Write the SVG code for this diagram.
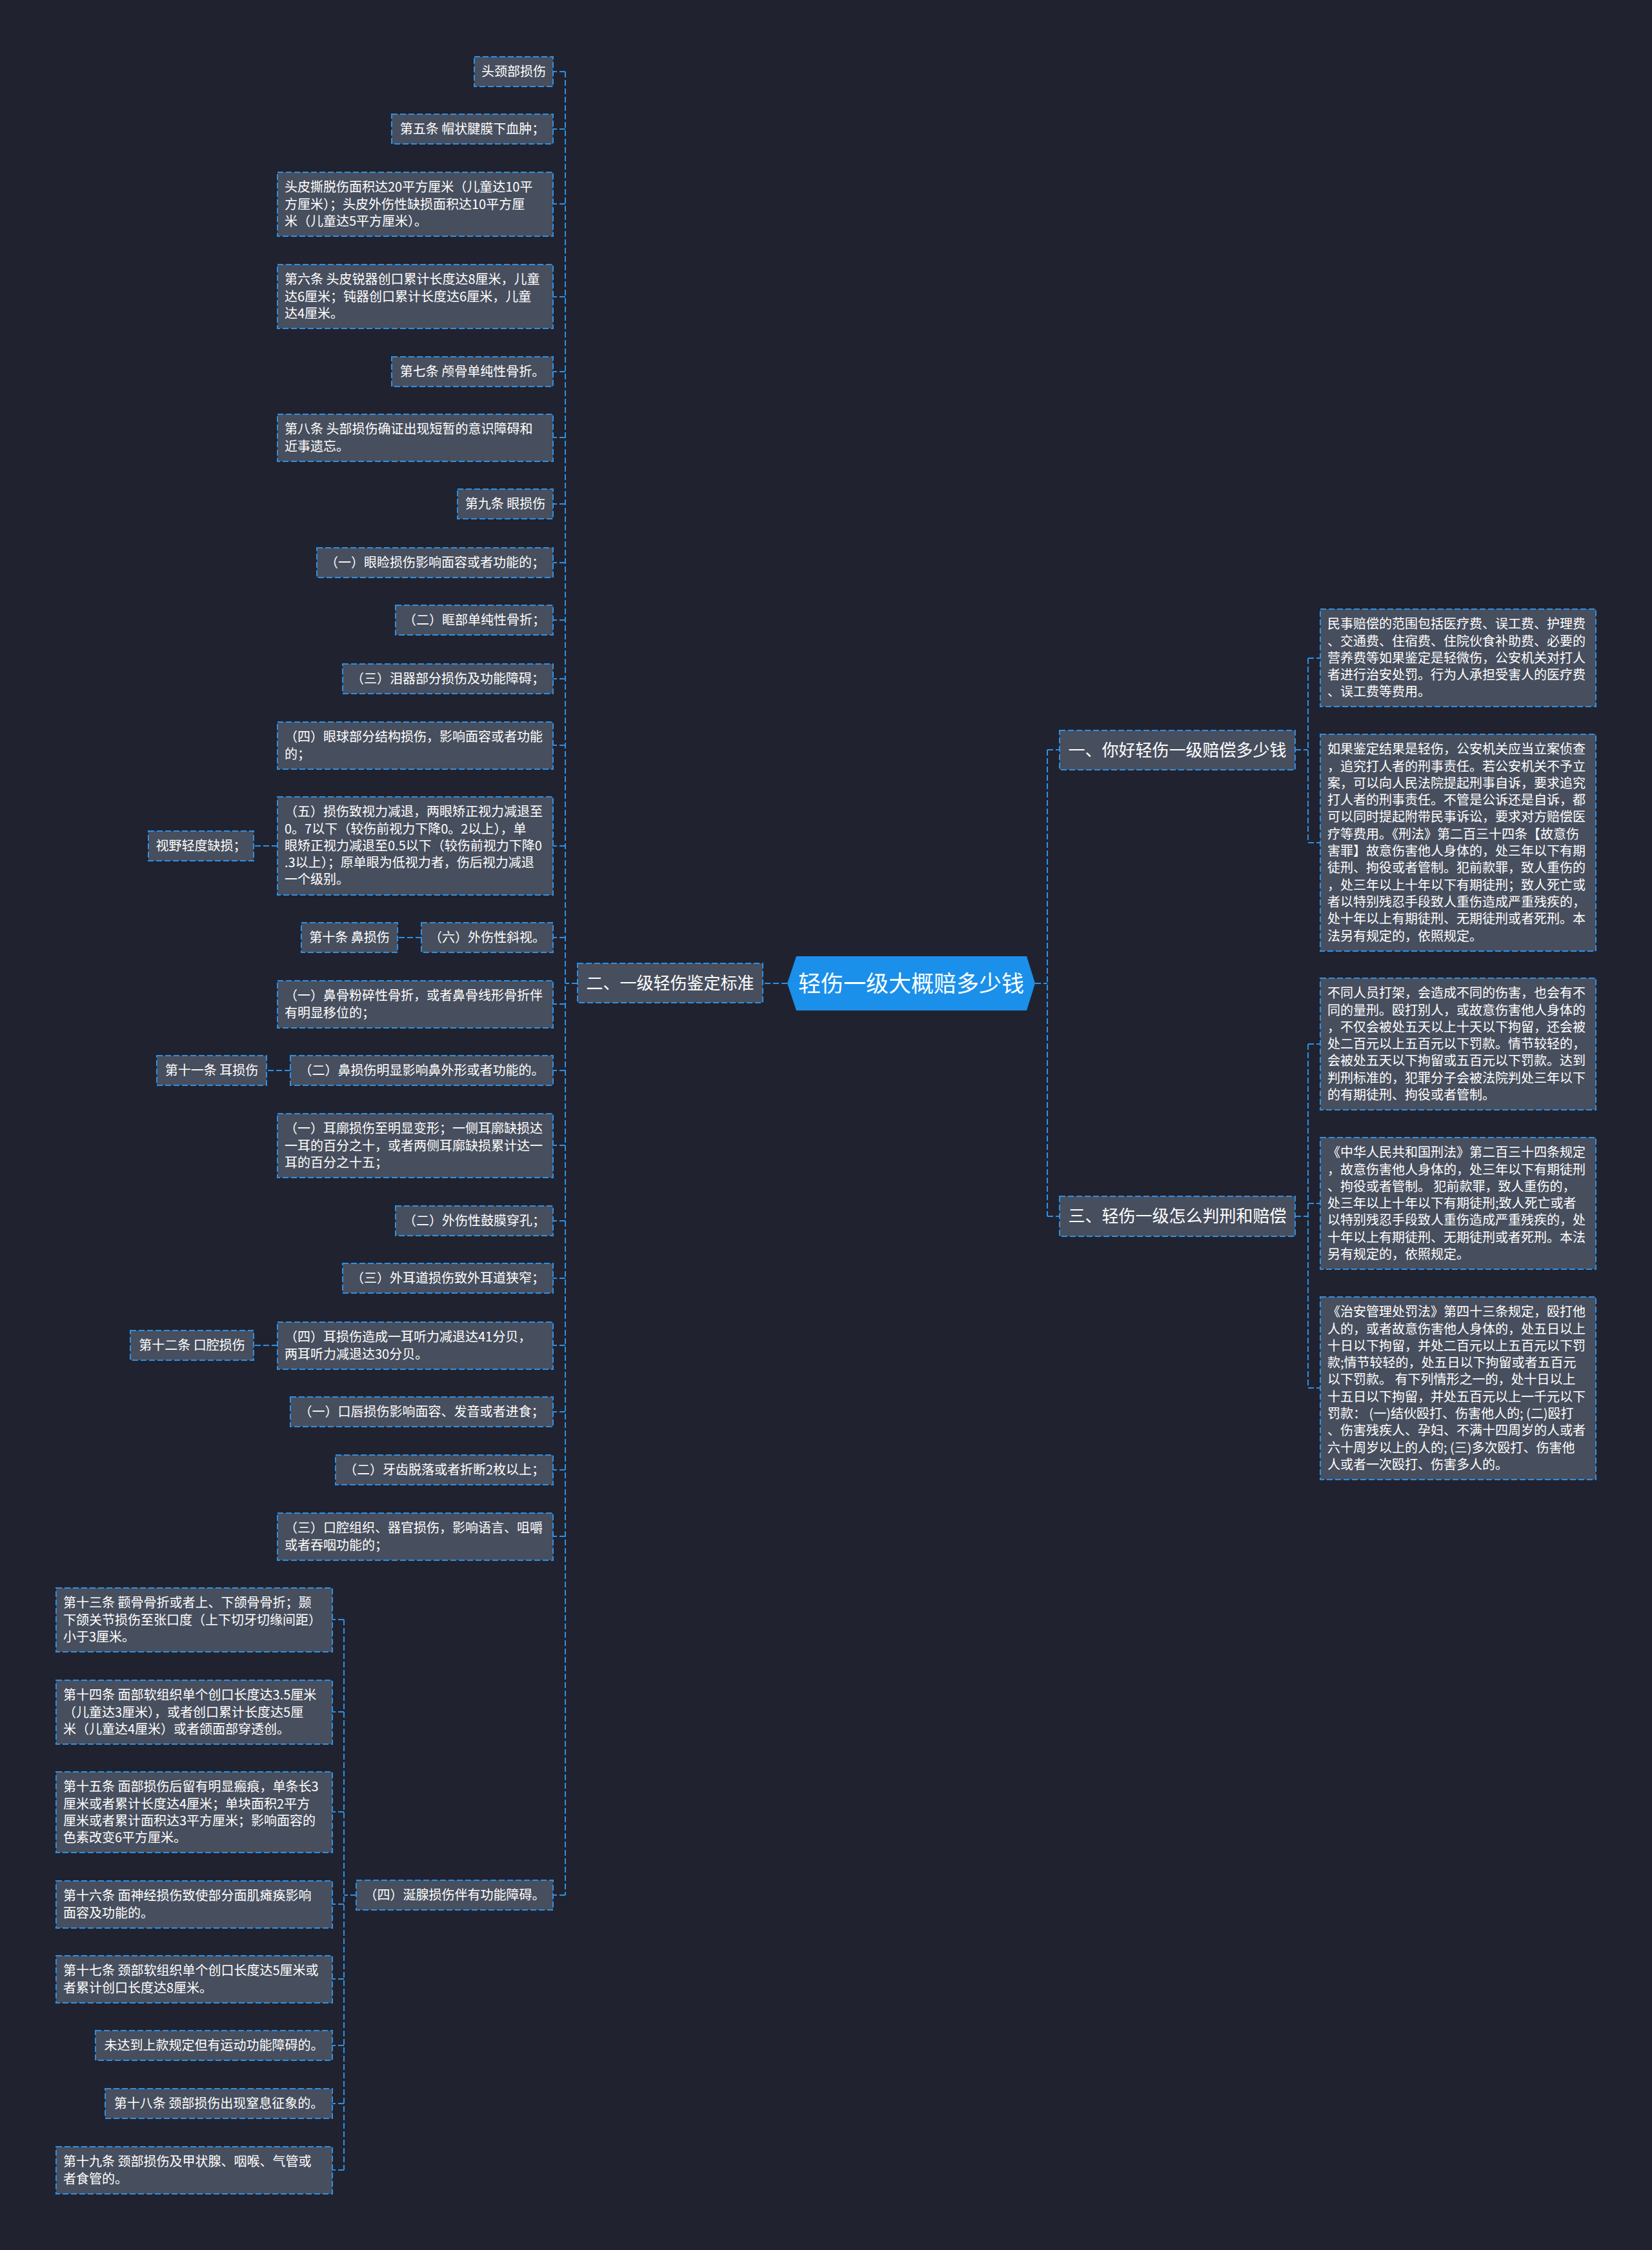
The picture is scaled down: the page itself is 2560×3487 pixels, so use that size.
<svg xmlns="http://www.w3.org/2000/svg" width="2560" height="3487" viewBox="0 0 2560 3487">
<style>
.bg{fill:#20232f}
.nd{fill:#474e5d;stroke:#2f8fe4;stroke-width:2;stroke-dasharray:9 4}
.t{font-family:"Noto Sans CJK SC","Noto Sans",sans-serif;font-size:20px;fill:#ffffff}
.m{text-anchor:middle}
.t1{font-family:"Noto Sans CJK SC","Noto Sans",sans-serif;font-size:26px;fill:#ffffff;text-anchor:middle}
.t0{font-family:"Noto Sans CJK SC","Noto Sans",sans-serif;font-size:35px;fill:#ffffff;text-anchor:middle}
.c{fill:none;stroke:#2f8fe4;stroke-width:2;stroke-dasharray:9 4}
</style>
<rect class="bg" x="0" y="0" width="2560" height="3487"/>
<g id="connectors">
<path class="c" d="M1220 1524H1182"/>
<path class="c" d="M1604 1524H1623M1623 1162V1885M1623 1162H1642M1623 1885H1642"/>
<path class="c" d="M2007 1162H2027M2027 1020V1306M2027 1020H2046M2027 1306H2046"/>
<path class="c" d="M2007 1885H2027M2027 1618V2151M2027 1618H2046M2027 1865H2046M2027 2151H2046"/>
<path class="c" d="M895 1524H876M876 111V2937"/>
<path class="c" d="M876 111H857M876 200H857M876 316H857M876 460H857M876 576H857M876 678H857M876 781H857M876 872H857M876 961H857M876 1052H857M876 1155H857M876 1311H857M876 1453H857M876 1556H857M876 1659H857M876 1775H857M876 1892H857M876 1981H857M876 2085H857M876 2188H857M876 2278H857M876 2381H857M876 2937H857"/>
<path class="c" d="M430 1311H393"/>
<path class="c" d="M653 1453H616"/>
<path class="c" d="M450 1659H413"/>
<path class="c" d="M430 2085H393"/>
<path class="c" d="M552 2937H533M533 2510V3363M533 2510H515M533 2653H515M533 2808H515M533 2951H515M533 3067H515M533 3170H515M533 3260H515M533 3363H515"/>
</g>
<g id="root">
<polygon points="1234,1482 1591,1482 1604,1524 1591,1566 1234,1566 1220,1524" fill="#1a90ea"/>
<text class="t0" x="1412" y="1537">轻伤一级大概赔多少钱</text>
</g>
<g id="b2"><rect class="nd" x="895" y="1493" width="287" height="61"/><text class="t1" x="1038.5" y="1533">二、一级轻伤鉴定标准</text></g>
<g id="b1"><rect class="nd" x="1642" y="1132" width="365" height="61"/><text class="t1" x="1824.5" y="1172">一、你好轻伤一级赔偿多少钱</text></g>
<g id="b3"><rect class="nd" x="1642" y="1854" width="365" height="62"/><text class="t1" x="1824.5" y="1894">三、轻伤一级怎么判刑和赔偿</text></g>

<g id="r1"><rect class="nd" x="2046" y="944" width="427" height="151"/><text class="t"><tspan x="2057" y="974.2">民事赔偿的范围包括医疗费、误工费、护理费</tspan><tspan x="2057" y="1000.5">、交通费、住宿费、住院伙食补助费、必要的</tspan><tspan x="2057" y="1026.8">营养费等如果鉴定是轻微伤，公安机关对打人</tspan><tspan x="2057" y="1053.1">者进行治安处罚。行为人承担受害人的医疗费</tspan><tspan x="2057" y="1079.4">、误工费等费用。</tspan></text></g>
<g id="r2"><rect class="nd" x="2046" y="1138" width="427" height="336"/><text class="t"><tspan x="2057" y="1168.2">如果鉴定结果是轻伤，公安机关应当立案侦查</tspan><tspan x="2057" y="1194.5">，追究打人者的刑事责任。若公安机关不予立</tspan><tspan x="2057" y="1220.8">案，可以向人民法院提起刑事自诉，要求追究</tspan><tspan x="2057" y="1247.1">打人者的刑事责任。不管是公诉还是自诉，都</tspan><tspan x="2057" y="1273.4">可以同时提起附带民事诉讼，要求对方赔偿医</tspan><tspan x="2057" y="1299.7">疗等费用。《刑法》第二百三十四条【故意伤</tspan><tspan x="2057" y="1326">害罪】故意伤害他人身体的，处三年以下有期</tspan><tspan x="2057" y="1352.3">徒刑、拘役或者管制。犯前款罪，致人重伤的</tspan><tspan x="2057" y="1378.6">，处三年以上十年以下有期徒刑；致人死亡或</tspan><tspan x="2057" y="1404.9">者以特别残忍手段致人重伤造成严重残疾的，</tspan><tspan x="2057" y="1431.2">处十年以上有期徒刑、无期徒刑或者死刑。本</tspan><tspan x="2057" y="1457.5">法另有规定的，依照规定。</tspan></text></g>
<g id="r3"><rect class="nd" x="2046" y="1516" width="427" height="204"/><text class="t"><tspan x="2057" y="1546.2">不同人员打架，会造成不同的伤害，也会有不</tspan><tspan x="2057" y="1572.5">同的量刑。殴打别人，或故意伤害他人身体的</tspan><tspan x="2057" y="1598.8">，不仅会被处五天以上十天以下拘留，还会被</tspan><tspan x="2057" y="1625.1">处二百元以上五百元以下罚款。情节较轻的，</tspan><tspan x="2057" y="1651.4">会被处五天以下拘留或五百元以下罚款。达到</tspan><tspan x="2057" y="1677.7">判刑标准的，犯罪分子会被法院判处三年以下</tspan><tspan x="2057" y="1704">的有期徒刑、拘役或者管制。</tspan></text></g>
<g id="r4"><rect class="nd" x="2046" y="1763" width="427" height="204"/><text class="t"><tspan x="2057" y="1793.2">《中华人民共和国刑法》第二百三十四条规定</tspan><tspan x="2057" y="1819.5">，故意伤害他人身体的，处三年以下有期徒刑</tspan><tspan x="2057" y="1845.8">、拘役或者管制。 犯前款罪，致人重伤的，</tspan><tspan x="2057" y="1872.1">处三年以上十年以下有期徒刑;致人死亡或者</tspan><tspan x="2057" y="1898.4">以特别残忍手段致人重伤造成严重残疾的，处</tspan><tspan x="2057" y="1924.7">十年以上有期徒刑、无期徒刑或者死刑。本法</tspan><tspan x="2057" y="1951">另有规定的，依照规定。</tspan></text></g>
<g id="r5"><rect class="nd" x="2046" y="2010" width="427" height="283"/><text class="t"><tspan x="2057" y="2040.2">《治安管理处罚法》第四十三条规定，殴打他</tspan><tspan x="2057" y="2066.5">人的，或者故意伤害他人身体的，处五日以上</tspan><tspan x="2057" y="2092.8">十日以下拘留，并处二百元以上五百元以下罚</tspan><tspan x="2057" y="2119.1">款;情节较轻的，处五日以下拘留或者五百元</tspan><tspan x="2057" y="2145.4">以下罚款。 有下列情形之一的，处十日以上</tspan><tspan x="2057" y="2171.7">十五日以下拘留，并处五百元以上一千元以下</tspan><tspan x="2057" y="2198">罚款： (一)结伙殴打、伤害他人的; (二)殴打</tspan><tspan x="2057" y="2224.3">、伤害残疾人、孕妇、不满十四周岁的人或者</tspan><tspan x="2057" y="2250.6">六十周岁以上的人的; (三)多次殴打、伤害他</tspan><tspan x="2057" y="2276.9">人或者一次殴打、伤害多人的。</tspan></text></g>

<g id="n1"><rect class="nd" x="735" y="88" width="122" height="46"/><text class="t m" x="796" y="118">头颈部损伤</text></g>
<g id="n2"><rect class="nd" x="607" y="177" width="250" height="46"/><text class="t m" x="732" y="207">第五条 帽状腱膜下血肿；</text></g>
<g id="n3"><rect class="nd" x="430" y="267" width="427" height="99"/><text class="t"><tspan x="441" y="297.2">头皮撕脱伤面积达20平方厘米（儿童达10平</tspan><tspan x="441" y="323.5">方厘米）；头皮外伤性缺损面积达10平方厘</tspan><tspan x="441" y="349.8">米（儿童达5平方厘米）。</tspan></text></g>
<g id="n4"><rect class="nd" x="430" y="410" width="427" height="99"/><text class="t"><tspan x="441" y="440.2">第六条 头皮锐器创口累计长度达8厘米，儿童</tspan><tspan x="441" y="466.5">达6厘米；钝器创口累计长度达6厘米，儿童</tspan><tspan x="441" y="492.8">达4厘米。</tspan></text></g>
<g id="n5"><rect class="nd" x="607" y="553" width="250" height="46"/><text class="t m" x="732" y="583">第七条 颅骨单纯性骨折。</text></g>
<g id="n6"><rect class="nd" x="430" y="642" width="427" height="73"/><text class="t"><tspan x="441" y="672.2">第八条 头部损伤确证出现短暂的意识障碍和</tspan><tspan x="441" y="698.5">近事遗忘。</tspan></text></g>
<g id="n7"><rect class="nd" x="709" y="758" width="148" height="46"/><text class="t m" x="783" y="788">第九条 眼损伤</text></g>
<g id="n8"><rect class="nd" x="491" y="849" width="366" height="46"/><text class="t m" x="674" y="879">（一）眼睑损伤影响面容或者功能的；</text></g>
<g id="n9"><rect class="nd" x="613" y="938" width="244" height="46"/><text class="t m" x="735" y="968">（二）眶部单纯性骨折；</text></g>
<g id="n10"><rect class="nd" x="531" y="1029" width="326" height="46"/><text class="t m" x="694" y="1059">（三）泪器部分损伤及功能障碍；</text></g>
<g id="n11"><rect class="nd" x="430" y="1119" width="427" height="73"/><text class="t"><tspan x="441" y="1149.2">（四）眼球部分结构损伤，影响面容或者功能</tspan><tspan x="441" y="1175.5">的；</tspan></text></g>
<g id="n12"><rect class="nd" x="430" y="1235" width="427" height="152"/><text class="t"><tspan x="441" y="1265.2">（五）损伤致视力减退，两眼矫正视力减退至</tspan><tspan x="441" y="1291.5">0。7以下（较伤前视力下降0。2以上），单</tspan><tspan x="441" y="1317.8">眼矫正视力减退至0.5以下（较伤前视力下降0</tspan><tspan x="441" y="1344.1">.3以上）；原单眼为低视力者，伤后视力减退</tspan><tspan x="441" y="1370.4">一个级别。</tspan></text></g>
<g id="n13"><rect class="nd" x="230" y="1288" width="163" height="46"/><text class="t m" x="311.5" y="1318">视野轻度缺损；</text></g>
<g id="n14"><rect class="nd" x="653" y="1430" width="204" height="46"/><text class="t m" x="755" y="1460">（六）外伤性斜视。</text></g>
<g id="n15"><rect class="nd" x="467" y="1430" width="149" height="46"/><text class="t m" x="541.5" y="1460">第十条 鼻损伤</text></g>
<g id="n16"><rect class="nd" x="430" y="1520" width="427" height="73"/><text class="t"><tspan x="441" y="1550.2">（一）鼻骨粉碎性骨折，或者鼻骨线形骨折伴</tspan><tspan x="441" y="1576.5">有明显移位的；</tspan></text></g>
<g id="n17"><rect class="nd" x="450" y="1636" width="407" height="46"/><text class="t m" x="653.5" y="1666">（二）鼻损伤明显影响鼻外形或者功能的。</text></g>
<g id="n18"><rect class="nd" x="243" y="1636" width="170" height="46"/><text class="t m" x="328" y="1666">第十一条 耳损伤</text></g>
<g id="n19"><rect class="nd" x="430" y="1726" width="427" height="99"/><text class="t"><tspan x="441" y="1756.2">（一）耳廓损伤至明显变形；一侧耳廓缺损达</tspan><tspan x="441" y="1782.5">一耳的百分之十，或者两侧耳廓缺损累计达一</tspan><tspan x="441" y="1808.8">耳的百分之十五；</tspan></text></g>
<g id="n20"><rect class="nd" x="613" y="1869" width="244" height="46"/><text class="t m" x="735" y="1899">（二）外伤性鼓膜穿孔；</text></g>
<g id="n21"><rect class="nd" x="531" y="1958" width="326" height="46"/><text class="t m" x="694" y="1988">（三）外耳道损伤致外耳道狭窄；</text></g>
<g id="n22"><rect class="nd" x="430" y="2049" width="427" height="73"/><text class="t"><tspan x="441" y="2079.2">（四）耳损伤造成一耳听力减退达41分贝，</tspan><tspan x="441" y="2105.5">两耳听力减退达30分贝。</tspan></text></g>
<g id="n23"><rect class="nd" x="202" y="2062" width="191" height="46"/><text class="t m" x="297.5" y="2092">第十二条 口腔损伤</text></g>
<g id="n24"><rect class="nd" x="450" y="2165" width="407" height="46"/><text class="t m" x="653.5" y="2195">（一）口唇损伤影响面容、发音或者进食；</text></g>
<g id="n25"><rect class="nd" x="520" y="2255" width="337" height="46"/><text class="t m" x="688.5" y="2285">（二）牙齿脱落或者折断2枚以上；</text></g>
<g id="n26"><rect class="nd" x="430" y="2345" width="427" height="73"/><text class="t"><tspan x="441" y="2375.2">（三）口腔组织、器官损伤，影响语言、咀嚼</tspan><tspan x="441" y="2401.5">或者吞咽功能的；</tspan></text></g>
<g id="n30"><rect class="nd" x="552" y="2914" width="305" height="46"/><text class="t m" x="704.5" y="2944">（四）涎腺损伤伴有功能障碍。</text></g>
<g id="n27"><rect class="nd" x="87" y="2461" width="428" height="99"/><text class="t"><tspan x="98" y="2491.2">第十三条 颧骨骨折或者上、下颌骨骨折；颞</tspan><tspan x="98" y="2517.5">下颌关节损伤至张口度（上下切牙切缘间距）</tspan><tspan x="98" y="2543.8">小于3厘米。</tspan></text></g>
<g id="n28"><rect class="nd" x="87" y="2604" width="428" height="99"/><text class="t"><tspan x="98" y="2634.2">第十四条 面部软组织单个创口长度达3.5厘米</tspan><tspan x="98" y="2660.5">（儿童达3厘米），或者创口累计长度达5厘</tspan><tspan x="98" y="2686.8">米（儿童达4厘米）或者颌面部穿透创。</tspan></text></g>
<g id="n29"><rect class="nd" x="87" y="2746" width="428" height="125"/><text class="t"><tspan x="98" y="2776.2">第十五条 面部损伤后留有明显瘢痕，单条长3</tspan><tspan x="98" y="2802.5">厘米或者累计长度达4厘米；单块面积2平方</tspan><tspan x="98" y="2828.8">厘米或者累计面积达3平方厘米；影响面容的</tspan><tspan x="98" y="2855.1">色素改变6平方厘米。</tspan></text></g>
<g id="n31"><rect class="nd" x="87" y="2915" width="428" height="73"/><text class="t"><tspan x="98" y="2945.2">第十六条 面神经损伤致使部分面肌瘫痪影响</tspan><tspan x="98" y="2971.5">面容及功能的。</tspan></text></g>
<g id="n32"><rect class="nd" x="87" y="3031" width="428" height="73"/><text class="t"><tspan x="98" y="3061.2">第十七条 颈部软组织单个创口长度达5厘米或</tspan><tspan x="98" y="3087.5">者累计创口长度达8厘米。</tspan></text></g>
<g id="n33"><rect class="nd" x="148" y="3147" width="367" height="46"/><text class="t m" x="331.5" y="3177">未达到上款规定但有运动功能障碍的。</text></g>
<g id="n34"><rect class="nd" x="163" y="3237" width="352" height="46"/><text class="t m" x="339" y="3267">第十八条 颈部损伤出现窒息征象的。</text></g>
<g id="n35"><rect class="nd" x="87" y="3327" width="428" height="73"/><text class="t"><tspan x="98" y="3357.2">第十九条 颈部损伤及甲状腺、咽喉、气管或</tspan><tspan x="98" y="3383.5">者食管的。</tspan></text></g>
</svg>
